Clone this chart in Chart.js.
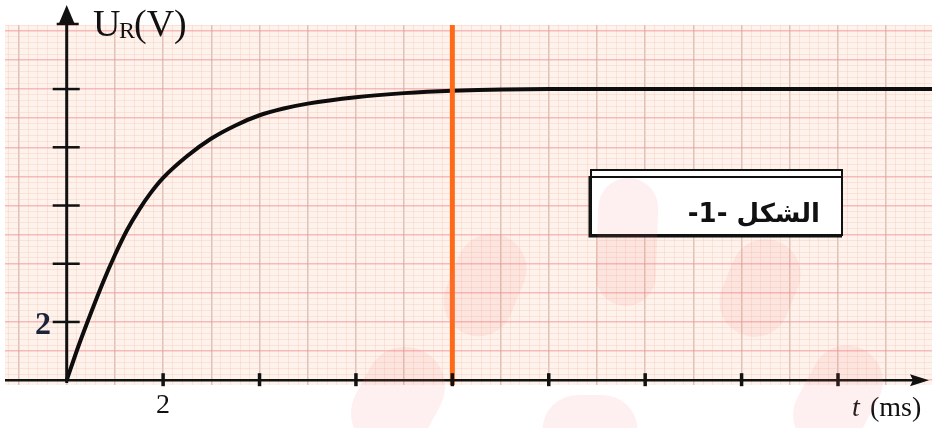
<!DOCTYPE html>
<html>
<head>
<meta charset="utf-8">
<script src="https://cdn.jsdelivr.net/npm/chart.js@4.4.1/dist/chart.umd.min.js"></script>
<style>
  html, body { margin: 0; padding: 0; background: #fff; overflow: hidden; }
</style>
</head>
<body>
<canvas id="graphe" width="932" height="428"></canvas>
<script>
// values
const tempsMs = [0, 0.25, 0.5, 0.75, 1, 1.25, 1.5, 1.75, 2, 2.5, 3, 3.5, 4, 4.5, 5, 6, 7, 8, 10, 12, 14, 16, 18];
const tensionUR = [0, 1.2, 2.3, 3.35, 4.3, 5.15, 5.85, 6.45, 6.95, 7.7, 8.3, 8.75, 9.1, 9.33, 9.5, 9.72, 9.86, 9.94, 10, 10, 10, 10, 10];
const ticksX = [2, 4, 6, 8, 10, 12, 14, 16];
const ticksY = [2, 4, 6, 8, 10];
const repereT = 8;
const labelX = '2';
const labelY = '2';
const titreFigure = 'الشكل -1-';

const xMin = -1.28, xMax = 17.95;
const yMin = -0.165, yMax = 12.2;

// filigrane rose (cx, cy, largeur, hauteur, angle en degres)
const taches = [
  [627, 242, 60, 128, 2],
  [485, 285, 70, 105, 22],
  [760, 288, 70, 100, 22],
  [398, 400, 80, 110, 28],
  [590, 430, 95, 70, 0],
  [838, 398, 72, 110, 28]
];

function estEntier(ctx) {
  const v = ctx.tick ? ctx.tick.value : 0.5;
  return Math.abs(v - Math.round(v)) < 1e-6;
}

const axesPlugin = {
  id: 'axes',
  beforeDraw(chart) {
    const c = chart.ctx, a = chart.chartArea;
    c.save();
    c.fillStyle = '#fef3ec';
    c.fillRect(a.left, a.top, a.right - a.left, a.bottom - a.top);
    c.restore();
  },
  afterDraw(chart) {
    const c = chart.ctx, a = chart.chartArea;
    const sx = chart.scales.x, sy = chart.scales.y;
    const x0 = sx.getPixelForValue(0), y0 = sy.getPixelForValue(0);
    c.save();
    c.strokeStyle = '#111';
    c.fillStyle = '#111';
    // axe des temps
    c.lineWidth = 2.5;
    c.beginPath(); c.moveTo(a.left, y0); c.lineTo(918, y0); c.stroke();
    c.beginPath(); c.moveTo(929, y0); c.lineTo(910, y0 - 6); c.lineTo(913, y0); c.lineTo(910, y0 + 6); c.closePath(); c.fill();
    // axe des tensions
    c.lineWidth = 3;
    c.beginPath(); c.moveTo(x0, a.bottom - 2); c.lineTo(x0, 18); c.stroke();
    c.beginPath(); c.moveTo(x0, 5); c.lineTo(x0 - 8, 24); c.lineTo(x0 + 8, 24); c.closePath(); c.fill();
    c.lineWidth = 2.5;
    c.beginPath(); c.moveTo(x0 - 10, 24); c.lineTo(x0 + 12, 24); c.stroke();
    // graduations
    c.lineWidth = 3.5;
    ticksX.forEach(v => {
      const px = sx.getPixelForValue(v);
      c.beginPath(); c.moveTo(px, y0 - 7); c.lineTo(px, y0 + 6); c.stroke();
    });
    c.lineWidth = 2.5;
    ticksY.forEach(v => {
      const py = sy.getPixelForValue(v);
      c.beginPath(); c.moveTo(x0 - 14, py); c.lineTo(x0 + 13, py); c.stroke();
    });
    // textes
    c.textBaseline = 'alphabetic';
    c.textAlign = 'center';
    c.font = '28px "Liberation Serif"';
    c.fillText(labelX, sx.getPixelForValue(2), 413);
    c.fillStyle = '#1c2238';
    c.font = 'bold 32px "Liberation Serif"';
    c.fillText(labelY, 43, 334);
    c.fillStyle = '#111';
    c.textAlign = 'left';
    c.font = '38px "Liberation Serif"';
    c.fillText('U', 93, 36);
    c.font = '24px "Liberation Serif"';
    c.fillText('R', 119, 38);
    c.font = '38px "Liberation Serif"';
    c.fillText('(V)', 134, 36);
    c.font = 'italic 28px "Liberation Serif"';
    c.fillText('t', 852, 416);
    c.font = '28px "Liberation Serif"';
    c.fillText('(ms)', 870, 416);
    // cadre du titre
    c.fillStyle = '#fff';
    c.fillRect(590, 169, 253, 67);
    c.lineWidth = 2;
    c.strokeStyle = '#111';
    c.strokeRect(591, 170, 251, 65);
    c.beginPath(); c.moveTo(591, 177); c.lineTo(842, 177); c.stroke();
    c.lineWidth = 3;
    c.beginPath(); c.moveTo(590, 176); c.lineTo(590, 236); c.lineTo(842, 236); c.stroke();
    c.fillStyle = '#111';
    c.font = 'bold 26px "DejaVu Sans"';
    c.textAlign = 'right';
    c.direction = 'rtl';
    c.fillText(titreFigure, 820, 222);
    c.direction = 'ltr';
    // filigrane
    c.fillStyle = 'rgba(250,120,120,0.11)';
    taches.forEach(([cx, cy, w, h, ang]) => {
      c.save();
      c.translate(cx, cy);
      c.rotate(ang * Math.PI / 180);
      c.beginPath();
      c.roundRect(-w / 2, -h / 2, w, h, w / 2);
      c.fill();
      c.restore();
    });
    c.restore();
  }
};

new Chart(document.getElementById('graphe'), {
  type: 'scatter',
  data: {
    datasets: [
      {
        data: [{x: repereT, y: yMin}, {x: repereT, y: yMax}],
        showLine: true,
        borderColor: '#ff6a18',
        borderWidth: 5,
        pointRadius: 0
      },
      {
        data: tempsMs.map((t, i) => ({x: t, y: tensionUR[i]})),
        showLine: true,
        borderColor: '#0d0d0d',
        borderWidth: 4,
        pointRadius: 0,
        cubicInterpolationMode: 'monotone'
      }
    ]
  },
  plugins: [axesPlugin],
  options: {
    responsive: false,
    animation: false,
    devicePixelRatio: 1,
    layout: { padding: { left: 5, top: 25, right: 0, bottom: 43 } },
    plugins: { legend: { display: false }, tooltip: { enabled: false } },
    scales: {
      x: {
        type: 'linear', min: xMin, max: xMax,
        ticks: { display: false, stepSize: 0.2, includeBounds: false },
        border: { display: false },
        grid: { drawTicks: false, lineWidth: ctx => estEntier(ctx) ? 1.5 : 1,
                color: ctx => estEntier(ctx) ? 'rgba(200,150,140,0.55)' : 'rgba(248,200,185,0.4)' }
      },
      y: {
        type: 'linear', min: yMin, max: yMax,
        ticks: { display: false, stepSize: 0.2, includeBounds: false },
        border: { display: false },
        grid: { drawTicks: false, lineWidth: ctx => estEntier(ctx) ? 1.5 : 1,
                color: ctx => estEntier(ctx) ? 'rgba(240,150,150,0.6)' : 'rgba(248,200,185,0.4)' }
      }
    }
  }
});
</script>
</body>
</html>
